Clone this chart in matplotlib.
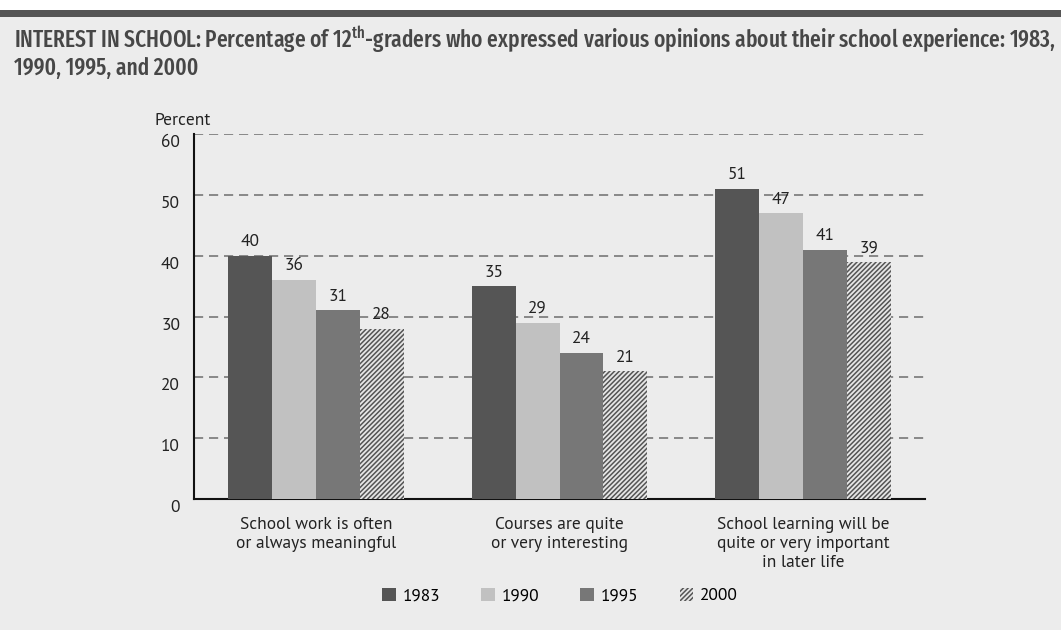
import matplotlib
matplotlib.use("Agg")
import matplotlib.pyplot as plt
import matplotlib.transforms as mtransforms
from matplotlib import font_manager
from matplotlib.patches import Patch, Rectangle
import numpy as np

# Data
categories = [
    "School work is often\nor always meaningful",
    "Courses are quite\nor very interesting",
    "School learning will be\nquite or very important\nin later life",
]
years = ["1983", "1990", "1995", "2000"]
values = {
    "1983": [40, 35, 51],
    "1990": [36, 29, 47],
    "1995": [31, 24, 41],
    "2000": [28, 21, 39],
}
y_ticks = [0, 10, 20, 30, 40, 50, 60]

BG = "#ececec"
colors = {"1983": "#555555", "1990": "#c1c1c1", "1995": "#777777", "2000": "#e6e6e6"}
hatches = {"1983": None, "1990": None, "1995": None, "2000": "///////"}


def first_font(names):
    for n in names:
        try:
            font_manager.findfont(n, fallback_to_default=False)
            return n
        except ValueError:
            continue
    return "DejaVu Sans"


BODY_FONT = first_font(["PT Sans", "Open Sans", "DejaVu Sans"])
TITLE_FONT = first_font(["Fira Sans Extra Condensed", "Barlow Condensed",
                         "Roboto Condensed", "DejaVu Sans"])
TITLE_COLOR = "#474747"

plt.rcParams["font.family"] = [BODY_FONT, "DejaVu Sans"]
plt.rcParams["hatch.linewidth"] = 1.1
plt.rcParams["mathtext.fontset"] = "custom"
plt.rcParams["mathtext.rm"] = f"{TITLE_FONT}:medium"

fig = plt.figure(figsize=(10.61, 6.30), dpi=100, facecolor=BG)

# white strip and dark rule at the very top
fig.patches.append(Rectangle((0, 1 - 10 / 630), 1, 10 / 630, transform=fig.transFigure,
                             facecolor="white", edgecolor="none", zorder=0))
fig.patches.append(Rectangle((0, 1 - 17 / 630), 1, 7 / 630, transform=fig.transFigure,
                             facecolor="#555555", edgecolor="none", zorder=0))

title1 = fig.text(14 / 1061, 1 - 48 / 630,
                  "INTEREST IN SCHOOL: Percentage of 12$^{\\mathrm{th}}$-graders who expressed "
                  "various opinions about their school experience: 1983,",
                  family=[TITLE_FONT, "DejaVu Sans"], fontweight="medium", fontsize=20,
                  color=TITLE_COLOR, va="baseline")
title2 = fig.text(14 / 1061, 1 - 75 / 630, "1990, 1995, and 2000",
                  family=[TITLE_FONT, "DejaVu Sans"], fontweight="medium", fontsize=20,
                  color=TITLE_COLOR, va="baseline")

# shrink/grow the title so line one spans the width it has in the reference
renderer = fig.canvas.get_renderer()
w = title1.get_window_extent(renderer).width
size = min(22.0, 20 * 1042 / w)
title1.set_fontsize(size)
title2.set_fontsize(size)

ax = fig.add_axes([194 / 1061, 131 / 630, 731 / 1061, 365 / 630], facecolor=BG)

x = np.arange(len(categories))
width = 0.18
for i, yr in enumerate(years):
    bars = ax.bar(x + (i - 1.5) * width, values[yr], width, color=colors[yr],
                  hatch=hatches[yr], edgecolor="#555555" if hatches[yr] else colors[yr],
                  linewidth=0, zorder=3)
    ax.bar_label(bars, padding=4, fontsize=12.5, color="#222222")

ax.set_xlim(-0.5, 2.5)
ax.set_ylim(0, 60)
ax.set_yticks(y_ticks)
ax.set_xticks(x)
ax.set_xticklabels(categories, fontsize=12.5, color="#222222", linespacing=1.25)
ax.tick_params(axis="x", length=0, pad=13)
ax.tick_params(axis="y", length=0, pad=10, labelsize=12.5, labelcolor="#222222")
for lab in ax.get_yticklabels():
    lab.set_transform(lab.get_transform()
                      + mtransforms.ScaledTranslation(0, -7 / 100, fig.dpi_scale_trans))

ax.yaxis.grid(True, linestyle=(0, (5.5, 3.5)), color="#777777", linewidth=1.2, zorder=0)
ax.set_axisbelow(True)
for s in ("top", "right"):
    ax.spines[s].set_visible(False)
for s in ("left", "bottom"):
    ax.spines[s].set_color("#111111")
    ax.spines[s].set_linewidth(1.5)

fig.text(155 / 1061, 1 - 121 / 630, "Percent", fontsize=12.5, color="#222222", va="center")

handles = [Patch(facecolor=colors[yr], hatch=hatches[yr],
                 edgecolor="#555555" if hatches[yr] else colors[yr], linewidth=0)
           for yr in years]
fig.legend(handles, years, loc="center", bbox_to_anchor=(560 / 1061, 1 - 596 / 630),
           ncol=4, frameon=False, fontsize=12.5, handlelength=0.8, handleheight=0.8,
           handletextpad=0.4, columnspacing=2.35)

fig.savefig("out.png", dpi=100, facecolor=BG)
